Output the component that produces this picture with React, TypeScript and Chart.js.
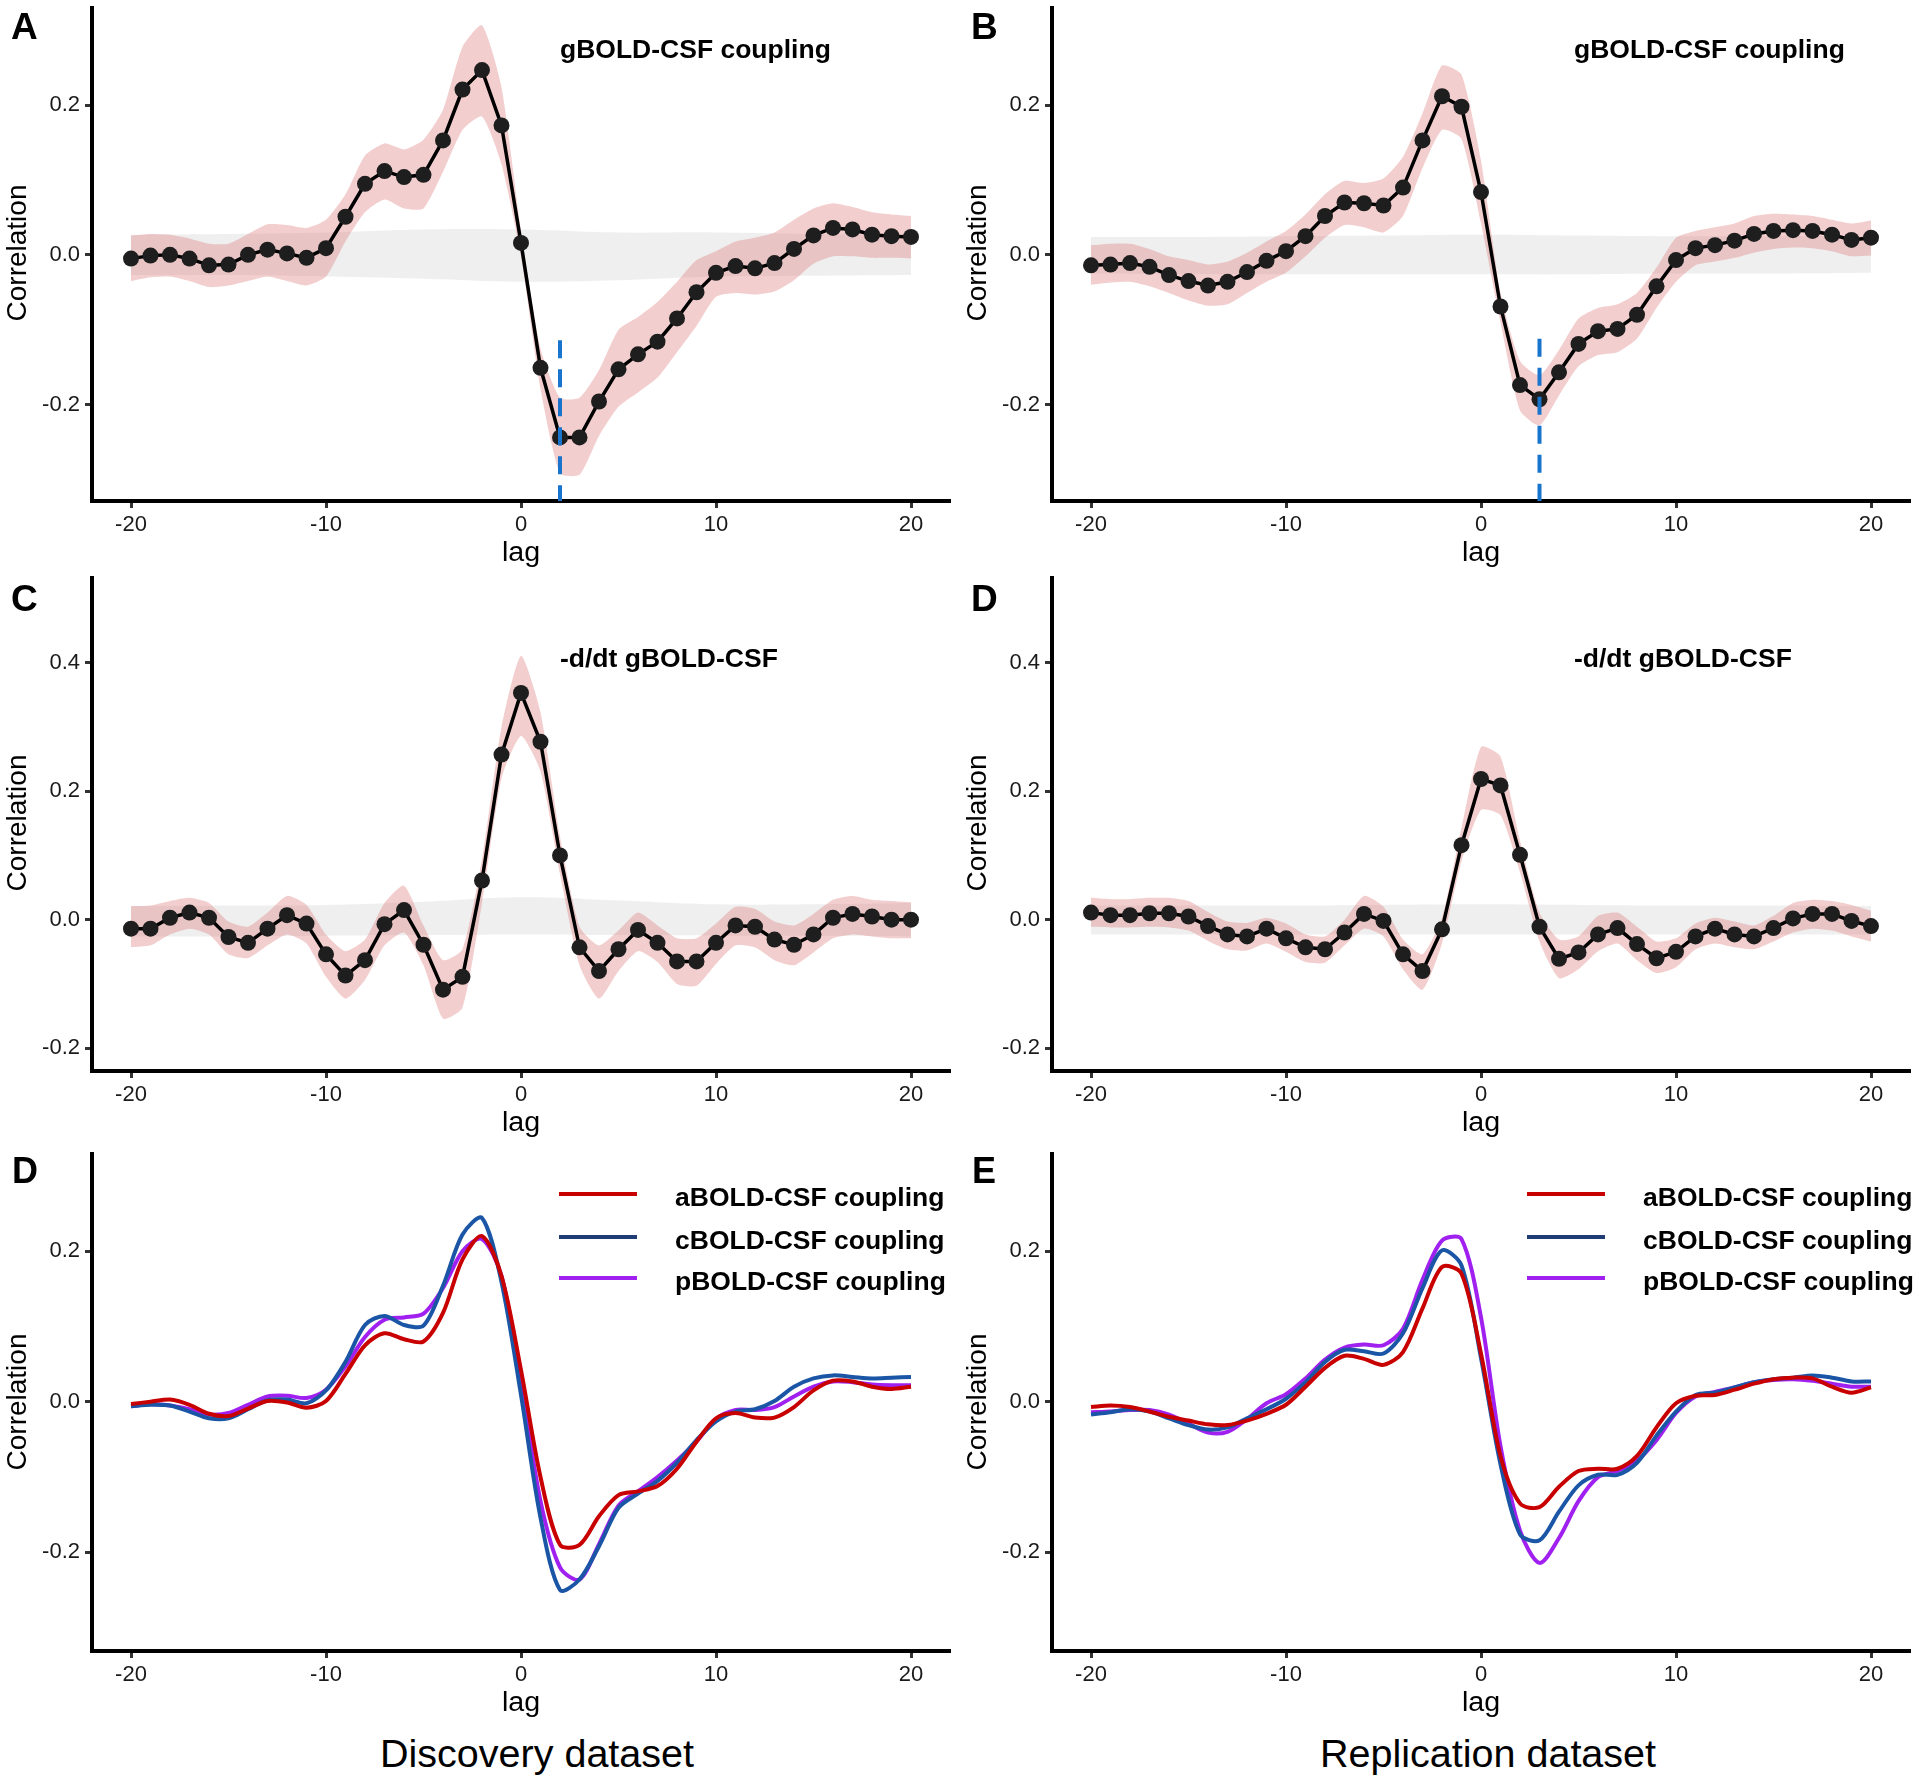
import React, { useEffect, useRef } from "react";
import { Chart, registerables } from "chart.js";
Chart.register(...registerables);

const FONT = "'Liberation Sans', Arial, Helvetica, sans-serif";

// ---------- categories / ticks ----------
const lags = [-20,-19,-18,-17,-16,-15,-14,-13,-12,-11,-10,-9,-8,-7,-6,-5,-4,-3,-2,-1,0,1,2,3,4,5,6,7,8,9,10,11,12,13,14,15,16,17,18,19,20];
const bandLags = [-20,-15,-10,-5,0,5,10,15,20];
const xTicks = [-20,-10,0,10,20];
const yTicksR1 = [-0.2,0,0.2];
const yTicksR2 = [-0.2,0,0.2,0.4];
const yTicksR3 = [-0.2,0,0.2];

// ---------- Panel A: gBOLD-CSF coupling (discovery) ----------
const corrA = [-0.005,-0.001,0.0,-0.005,-0.014,-0.013,0.0,0.007,0.002,-0.004,0.009,0.051,0.095,0.112,0.104,0.107,0.153,0.221,0.247,0.173,0.016,-0.151,-0.244,-0.244,-0.196,-0.153,-0.133,-0.116,-0.085,-0.050,-0.024,-0.015,-0.018,-0.011,0.008,0.026,0.036,0.034,0.027,0.025,0.024];
const upA = [0.026,0.028,0.027,0.022,0.015,0.015,0.028,0.041,0.040,0.036,0.047,0.081,0.133,0.149,0.141,0.154,0.194,0.278,0.307,0.224,0.032,-0.125,-0.191,-0.191,-0.154,-0.100,-0.083,-0.063,-0.036,-0.007,0.005,0.018,0.023,0.030,0.047,0.062,0.069,0.064,0.057,0.054,0.052];
const loA = [-0.035,-0.030,-0.029,-0.035,-0.043,-0.041,-0.035,-0.029,-0.035,-0.041,-0.029,0.018,0.057,0.074,0.062,0.062,0.111,0.167,0.185,0.121,-0.002,-0.179,-0.292,-0.294,-0.242,-0.203,-0.184,-0.164,-0.130,-0.095,-0.056,-0.051,-0.053,-0.049,-0.034,-0.012,-0.002,-0.002,-0.004,-0.004,-0.005];
const nullUpA = [0.027,0.028,0.030,0.034,0.034,0.030,0.030,0.028,0.026];
const nullLoA = [-0.027,-0.027,-0.029,-0.032,-0.036,-0.034,-0.029,-0.028,-0.027];
const peakLagA = 2;
const peakTopA = -0.114;

// ---------- Panel B: gBOLD-CSF coupling (replication) ----------
const corrB = [-0.014,-0.013,-0.011,-0.016,-0.027,-0.035,-0.041,-0.036,-0.023,-0.008,0.005,0.025,0.052,0.070,0.069,0.066,0.090,0.153,0.212,0.198,0.084,-0.069,-0.174,-0.193,-0.157,-0.119,-0.102,-0.099,-0.080,-0.042,-0.007,0.009,0.013,0.019,0.028,0.032,0.033,0.032,0.027,0.020,0.023];
const upB = [0.013,0.015,0.015,0.008,-0.002,-0.007,-0.013,-0.009,0.003,0.018,0.032,0.054,0.081,0.099,0.096,0.102,0.131,0.189,0.253,0.241,0.126,-0.051,-0.142,-0.161,-0.127,-0.085,-0.071,-0.066,-0.051,-0.017,0.023,0.032,0.037,0.042,0.052,0.055,0.054,0.052,0.047,0.042,0.046];
const loB = [-0.040,-0.037,-0.036,-0.042,-0.051,-0.061,-0.068,-0.066,-0.051,-0.036,-0.024,-0.002,0.023,0.040,0.037,0.030,0.052,0.116,0.167,0.155,0.042,-0.090,-0.208,-0.228,-0.188,-0.149,-0.134,-0.130,-0.112,-0.071,-0.036,-0.014,-0.009,-0.004,0.003,0.008,0.010,0.009,0.005,-0.002,-0.001];
const nullUpB = [0.024,0.024,0.025,0.026,0.027,0.026,0.025,0.025,0.025];
const nullLoB = [-0.025,-0.026,-0.026,-0.026,-0.026,-0.026,-0.025,-0.025,-0.024];
const peakLagB = 3;
const peakTopB = -0.112;

// ---------- Panel C: -d/dt gBOLD-CSF (discovery) ----------
const corrC = [-0.014,-0.014,0.003,0.011,0.003,-0.027,-0.036,-0.014,0.007,-0.006,-0.054,-0.087,-0.063,-0.007,0.015,-0.039,-0.109,-0.089,0.061,0.257,0.353,0.277,0.100,-0.043,-0.080,-0.046,-0.016,-0.036,-0.065,-0.065,-0.036,-0.009,-0.011,-0.031,-0.039,-0.023,0.003,0.009,0.005,0.0,0.0];
const upC = [0.021,0.022,0.029,0.034,0.026,-0.003,-0.011,0.011,0.037,0.023,-0.023,-0.049,-0.031,0.026,0.053,-0.009,-0.063,-0.046,0.094,0.300,0.411,0.323,0.129,-0.011,-0.040,-0.017,0.011,-0.009,-0.029,-0.029,-0.006,0.020,0.017,-0.003,-0.009,0.009,0.031,0.037,0.031,0.029,0.027];
const loC = [-0.043,-0.040,-0.023,-0.014,-0.023,-0.054,-0.060,-0.040,-0.023,-0.037,-0.089,-0.123,-0.094,-0.040,-0.020,-0.071,-0.154,-0.137,0.026,0.220,0.286,0.231,0.071,-0.071,-0.123,-0.080,-0.049,-0.066,-0.100,-0.103,-0.069,-0.040,-0.043,-0.063,-0.071,-0.051,-0.029,-0.023,-0.026,-0.029,-0.029];
const nullUpC = [0.021,0.022,0.023,0.028,0.035,0.030,0.024,0.024,0.026];
const nullLoC = [-0.026,-0.026,-0.025,-0.024,-0.023,-0.024,-0.025,-0.025,-0.026];

// ---------- Panel D: -d/dt gBOLD-CSF (replication) ----------
const corrD = [0.011,0.007,0.007,0.010,0.010,0.005,-0.010,-0.023,-0.026,-0.014,-0.029,-0.043,-0.046,-0.020,0.009,-0.002,-0.054,-0.080,-0.015,0.116,0.219,0.209,0.101,-0.011,-0.061,-0.051,-0.023,-0.013,-0.038,-0.060,-0.050,-0.026,-0.014,-0.023,-0.026,-0.013,0.002,0.009,0.009,-0.002,-0.010];
const upD = [0.034,0.032,0.032,0.034,0.034,0.029,0.012,-0.003,-0.005,0.003,-0.006,-0.023,-0.026,0.000,0.037,0.020,-0.031,-0.054,0.003,0.143,0.269,0.254,0.123,0.011,-0.031,-0.026,0.006,0.011,-0.011,-0.034,-0.029,-0.006,0.003,-0.003,-0.009,0.006,0.026,0.031,0.029,0.023,0.014];
const loD = [-0.011,-0.012,-0.012,-0.011,-0.012,-0.017,-0.033,-0.046,-0.048,-0.037,-0.050,-0.066,-0.067,-0.040,-0.014,-0.026,-0.077,-0.109,-0.037,0.091,0.171,0.163,0.074,-0.034,-0.091,-0.077,-0.049,-0.037,-0.063,-0.083,-0.074,-0.046,-0.037,-0.043,-0.046,-0.034,-0.020,-0.014,-0.017,-0.026,-0.034];
const nullUpD = [0.022,0.022,0.022,0.023,0.024,0.023,0.022,0.022,0.021];
const nullLoD = [-0.023,-0.023,-0.023,-0.023,-0.023,-0.023,-0.023,-0.023,-0.023];

// ---------- Bottom panels: a/c/pBOLD-CSF coupling ----------
const discA = [-0.003,0.0,0.003,-0.004,-0.016,-0.019,-0.009,0.001,-0.001,-0.008,0.001,0.037,0.075,0.091,0.083,0.080,0.118,0.189,0.220,0.167,0.042,-0.100,-0.190,-0.190,-0.152,-0.124,-0.119,-0.112,-0.089,-0.053,-0.022,-0.015,-0.021,-0.021,-0.007,0.015,0.028,0.027,0.020,0.017,0.020];
const discC = [-0.006,-0.004,-0.005,-0.013,-0.022,-0.022,-0.010,0.002,0.003,-0.002,0.015,0.053,0.102,0.114,0.102,0.101,0.154,0.222,0.244,0.159,0.009,-0.154,-0.250,-0.236,-0.192,-0.141,-0.122,-0.105,-0.081,-0.051,-0.026,-0.013,-0.010,0.001,0.020,0.031,0.035,0.033,0.031,0.032,0.033];
const discP = [-0.006,-0.003,-0.005,-0.010,-0.017,-0.015,-0.004,0.007,0.008,0.005,0.016,0.047,0.086,0.109,0.112,0.117,0.151,0.200,0.216,0.167,0.026,-0.132,-0.220,-0.236,-0.189,-0.138,-0.119,-0.100,-0.078,-0.053,-0.023,-0.011,-0.011,-0.007,0.007,0.020,0.027,0.026,0.023,0.022,0.022];
const repA = [-0.007,-0.005,-0.007,-0.013,-0.020,-0.025,-0.030,-0.031,-0.025,-0.016,-0.004,0.020,0.045,0.061,0.057,0.049,0.066,0.124,0.179,0.170,0.064,-0.072,-0.135,-0.140,-0.113,-0.092,-0.089,-0.089,-0.072,-0.034,-0.002,0.008,0.009,0.016,0.024,0.030,0.032,0.031,0.020,0.012,0.019];
const repC = [-0.017,-0.014,-0.010,-0.013,-0.022,-0.031,-0.037,-0.034,-0.022,-0.010,0.004,0.026,0.053,0.069,0.067,0.064,0.091,0.151,0.201,0.181,0.058,-0.083,-0.176,-0.184,-0.146,-0.111,-0.097,-0.097,-0.081,-0.045,-0.013,0.009,0.012,0.019,0.026,0.030,0.032,0.035,0.032,0.027,0.027];
const repP = [-0.014,-0.013,-0.011,-0.011,-0.017,-0.029,-0.041,-0.040,-0.023,-0.002,0.010,0.031,0.056,0.072,0.076,0.075,0.097,0.162,0.214,0.216,0.112,-0.059,-0.171,-0.214,-0.181,-0.132,-0.100,-0.092,-0.078,-0.051,-0.015,0.007,0.013,0.019,0.026,0.029,0.030,0.028,0.024,0.020,0.020];
const seriesNames = ["aBOLD-CSF coupling", "cBOLD-CSF coupling", "pBOLD-CSF coupling"];
const seriesColors = ["#C80000", "#1B56A6", "#A020F0"];
const legendColors = ["#C80000", "#1F3C74", "#A020F0"];

// ---------- styling ----------
const PINK = "rgba(222,120,120,0.36)";
const GRAY = "rgba(205,205,205,0.32)";
const DOT = "#1e1e1e";
const DASH = "#1874CD";

const pts = (xs: number[], ys: number[]) => xs.map((x, i) => ({ x, y: ys[i] }));

function topDatasets(corr: number[], up: number[], lo: number[], nUp: number[], nLo: number[], yMin: number, peak?: [number, number]) {
  const ds: any[] = [];
  if (peak) {
    ds.push({
      data: [{ x: peak[0], y: peak[1] }, { x: peak[0], y: yMin }],
      borderColor: DASH, borderWidth: 4, borderDash: [18, 11], pointRadius: 0, fill: false,
    });
  }
  ds.push({
    data: pts(lags, corr), borderColor: "#000", borderWidth: 3.5, pointRadius: 8,
    pointBackgroundColor: DOT, pointBorderWidth: 0, tension: 0, fill: false,
  });
  ds.push({ data: pts(lags, up), borderColor: "rgba(0,0,0,0)", borderWidth: 0, pointRadius: 0, fill: "+1", backgroundColor: PINK, tension: 0.2 });
  ds.push({ data: pts(lags, lo), borderColor: "rgba(0,0,0,0)", borderWidth: 0, pointRadius: 0, fill: false, tension: 0.2 });
  ds.push({ data: pts(bandLags, nUp), borderColor: "rgba(0,0,0,0)", borderWidth: 0, pointRadius: 0, fill: "+1", backgroundColor: GRAY, tension: 0.4 });
  ds.push({ data: pts(bandLags, nLo), borderColor: "rgba(0,0,0,0)", borderWidth: 0, pointRadius: 0, fill: false, tension: 0.4 });
  return ds;
}

function lineDatasets(a: number[], c: number[], p: number[]) {
  return [a, c, p].map((ys, i) => ({
    data: pts(lags, ys), borderColor: seriesColors[i], borderWidth: 4, pointRadius: 0,
    tension: 0.3, fill: false,
  }));
}

type PanelProps = {
  left: number; top: number; height: number; padTop: number; axisH: number;
  yMin: number; yMax: number; yTicks: number[]; datasets: any[];
};

function Panel(p: PanelProps) {
  const ref = useRef<HTMLCanvasElement>(null);
  useEffect(() => {
    const chart = new Chart(ref.current!, {
      type: "line",
      data: { datasets: p.datasets },
      options: {
        animation: false,
        responsive: false,
        devicePixelRatio: 1,
        layout: { padding: { top: p.padTop, right: 10, bottom: 0, left: 0 } },
        plugins: { legend: { display: false }, tooltip: { enabled: false } },
        scales: {
          x: {
            type: "linear", min: -22, max: 22,
            afterBuildTicks: (s: any) => { s.ticks = xTicks.map((v) => ({ value: v })); },
            afterFit: (s: any) => { s.height = p.axisH; s.paddingLeft = 0; s.paddingRight = 0; s.paddingTop = 0; s.paddingBottom = 0; },
            border: { display: true, color: "#000", width: 4 },
            grid: { drawOnChartArea: false, drawTicks: true, tickLength: 7, tickWidth: 3, tickColor: "#333" },
            ticks: { font: { size: 22, family: FONT }, color: "#1a1a1a", padding: 4, maxRotation: 0, autoSkip: false, callback: (v: any) => String(v) },
          },
          y: {
            type: "linear", min: p.yMin, max: p.yMax,
            afterBuildTicks: (s: any) => { s.ticks = p.yTicks.map((v) => ({ value: v })); },
            afterFit: (s: any) => { s.width = 92; s.paddingTop = 0; s.paddingBottom = 0; s.paddingLeft = 0; s.paddingRight = 0; },
            border: { display: true, color: "#000", width: 4 },
            grid: { drawOnChartArea: false, drawTicks: true, tickLength: 7, tickWidth: 3, tickColor: "#333" },
            ticks: { font: { size: 22, family: FONT }, color: "#1a1a1a", padding: 5, autoSkip: false, callback: (v: any) => Number(v).toFixed(1) },
          },
        },
      } as any,
    });
    return () => chart.destroy();
  }, []);
  return (
    <canvas ref={ref} width={960} height={p.height}
      style={{ position: "absolute", left: p.left, top: p.top, width: 960, height: p.height }} />
  );
}

function Txt(props: { x: number; base: number; size: number; bold?: boolean; sx?: number; center?: boolean; children: any }) {
  const { x, base, size, bold, sx = 1, center } = props;
  const style: any = {
    position: "absolute", top: base - 0.8465 * size, fontSize: size, lineHeight: `${size}px`,
    fontFamily: FONT, fontWeight: bold ? 700 : 400, color: "#000", whiteSpace: "nowrap",
    transform: `scaleX(${sx})`,
  };
  if (center) {
    style.left = x - 400; style.width = 800; style.textAlign = "center"; style.transformOrigin = "center";
  } else {
    style.left = x; style.transformOrigin = "left";
  }
  return <div style={style}>{props.children}</div>;
}

function YTitle({ cx, cy }: { cx: number; cy: number }) {
  return (
    <div style={{
      position: "absolute", left: cx, top: cy, fontSize: 28, lineHeight: "28px", fontFamily: FONT,
      color: "#000", whiteSpace: "nowrap", transform: "translate(-50%,-50%) rotate(-90deg)",
    }}>Correlation</div>
  );
}

function Legend({ lineX, textX }: { lineX: number; textX: number }) {
  const ys = [1194, 1236.5, 1278];
  return (
    <>
      {seriesNames.map((n, i) => (
        <React.Fragment key={n}>
          <div style={{ position: "absolute", left: lineX, top: ys[i] - 2, width: 78, height: 4, background: legendColors[i] }} />
          <Txt x={textX} base={ys[i] + 12.5} size={25} bold sx={1.06}>{n}</Txt>
        </React.Fragment>
      ))}
    </>
  );
}

const R1 = { yMin: -0.329, yMax: 0.33 };
const R2 = { yMin: -0.2356, yMax: 0.532 };
const R3 = { yMin: -0.331, yMax: 0.329 };

export default function App() {
  return (
    <div style={{ position: "absolute", left: 0, top: 0, width: 1920, height: 1786, background: "#fff", overflow: "hidden" }}>
      {/* Row 1 */}
      <Panel left={0} top={0} height={540} padTop={5} axisH={39} yMin={R1.yMin} yMax={R1.yMax} yTicks={yTicksR1}
        datasets={topDatasets(corrA, upA, loA, nullUpA, nullLoA, R1.yMin, [peakLagA, peakTopA])} />
      <Panel left={960} top={0} height={540} padTop={5} axisH={39} yMin={R1.yMin} yMax={R1.yMax} yTicks={yTicksR1}
        datasets={topDatasets(corrB, upB, loB, nullUpB, nullLoB, R1.yMin, [peakLagB, peakTopB])} />
      {/* Row 2 */}
      <Panel left={0} top={570} height={540} padTop={5} axisH={39} yMin={R2.yMin} yMax={R2.yMax} yTicks={yTicksR2}
        datasets={topDatasets(corrC, upC, loC, nullUpC, nullLoC, R2.yMin)} />
      <Panel left={960} top={570} height={540} padTop={5} axisH={39} yMin={R2.yMin} yMax={R2.yMax} yTicks={yTicksR2}
        datasets={topDatasets(corrD, upD, loD, nullUpD, nullLoD, R2.yMin)} />
      {/* Row 3 */}
      <Panel left={0} top={1149} height={541} padTop={5} axisH={39} yMin={R3.yMin} yMax={R3.yMax} yTicks={yTicksR3}
        datasets={lineDatasets(discA, discC, discP)} />
      <Panel left={960} top={1149} height={541} padTop={5} axisH={39} yMin={R3.yMin} yMax={R3.yMax} yTicks={yTicksR3}
        datasets={lineDatasets(repA, repC, repP)} />

      {/* panel letters */}
      <Txt x={11} base={39} size={37} bold>A</Txt>
      <Txt x={971} base={39} size={37} bold>B</Txt>
      <Txt x={11} base={611} size={37} bold>C</Txt>
      <Txt x={971} base={611} size={37} bold>D</Txt>
      <Txt x={12} base={1183} size={36} bold>D</Txt>
      <Txt x={972} base={1183} size={36} bold>E</Txt>

      {/* annotations */}
      <Txt x={560} base={58.5} size={25} bold sx={1.06}>gBOLD-CSF coupling</Txt>
      <Txt x={1574} base={58.5} size={25} bold sx={1.06}>gBOLD-CSF coupling</Txt>
      <Txt x={560} base={667.5} size={25} bold sx={1.06}>-d/dt gBOLD-CSF</Txt>
      <Txt x={1574} base={667.5} size={25} bold sx={1.06}>-d/dt gBOLD-CSF</Txt>

      {/* legends */}
      <Legend lineX={559} textX={675} />
      <Legend lineX={1527} textX={1643} />

      {/* axis titles */}
      <YTitle cx={17} cy={253} />
      <YTitle cx={977} cy={253} />
      <YTitle cx={17} cy={823} />
      <YTitle cx={977} cy={823} />
      <YTitle cx={17} cy={1402} />
      <YTitle cx={977} cy={1402} />
      <Txt x={521} base={562} size={27} sx={1.06} center>lag</Txt>
      <Txt x={1481} base={562} size={27} sx={1.06} center>lag</Txt>
      <Txt x={521} base={1132} size={27} sx={1.06} center>lag</Txt>
      <Txt x={1481} base={1132} size={27} sx={1.06} center>lag</Txt>
      <Txt x={521} base={1712} size={27} sx={1.06} center>lag</Txt>
      <Txt x={1481} base={1712} size={27} sx={1.06} center>lag</Txt>

      {/* dataset titles */}
      <Txt x={537} base={1767} size={38} sx={1.04} center>Discovery dataset</Txt>
      <Txt x={1488} base={1767} size={38} sx={1.04} center>Replication dataset</Txt>
    </div>
  );
}
